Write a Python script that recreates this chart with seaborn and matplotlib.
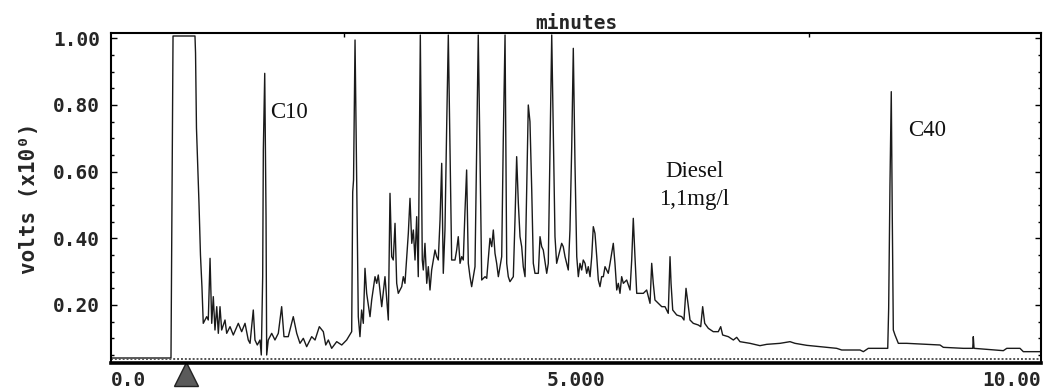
import matplotlib
matplotlib.use("Agg")
import matplotlib.pyplot as plt
import matplotlib.transforms as mtransforms
from matplotlib.ticker import MultipleLocator, FixedLocator
import seaborn as sns
import pandas as pd

# ---- data (time in minutes, signal in volts) ----
time_min = [
    0.000, 0.645, 0.656, 0.667, 0.903, 0.909, 0.919, 0.946, 0.962, 0.978,
    0.992, 1.029, 1.046, 1.065, 1.083, 1.100, 1.118, 1.137, 1.154, 1.172,
    1.190, 1.226, 1.244, 1.280, 1.315, 1.369, 1.405, 1.441, 1.476, 1.495,
    1.530, 1.548, 1.573, 1.602, 1.616, 1.631, 1.638, 1.653, 1.667, 1.674,
    1.691, 1.728, 1.763, 1.799, 1.835, 1.860, 1.906, 1.960, 1.997, 2.032,
    2.068, 2.104, 2.158, 2.194, 2.240, 2.283, 2.309, 2.337, 2.373, 2.427,
    2.481, 2.534, 2.588, 2.599, 2.608, 2.624, 2.642, 2.659, 2.677, 2.695,
    2.713, 2.731, 2.749, 2.785, 2.803, 2.839, 2.857, 2.874, 2.911, 2.946,
    2.982, 3.000, 3.018, 3.035, 3.054, 3.072, 3.089, 3.126, 3.143, 3.161,
    3.180, 3.197, 3.215, 3.234, 3.251, 3.269, 3.287, 3.304, 3.315, 3.326,
    3.337, 3.347, 3.358, 3.376, 3.395, 3.412, 3.430, 3.448, 3.484, 3.502,
    3.519, 3.538, 3.556, 3.573, 3.591, 3.610, 3.627, 3.645, 3.663, 3.699,
    3.717, 3.734, 3.753, 3.771, 3.788, 3.806, 3.824, 3.842, 3.860, 3.878,
    3.896, 3.914, 3.932, 3.949, 3.968, 3.986, 4.022, 4.040, 4.075, 4.094,
    4.111, 4.129, 4.147, 4.165, 4.183, 4.201, 4.218, 4.237, 4.255, 4.272,
    4.290, 4.326, 4.344, 4.362, 4.380, 4.398, 4.416, 4.433, 4.452, 4.470,
    4.487, 4.505, 4.524, 4.541, 4.559, 4.595, 4.613, 4.631, 4.648, 4.685,
    4.702, 4.720, 4.739, 4.756, 4.774, 4.792, 4.810, 4.846, 4.863, 4.882,
    4.900, 4.917, 4.935, 4.954, 4.971, 4.989, 5.008, 5.025, 5.043, 5.061,
    5.078, 5.097, 5.115, 5.132, 5.151, 5.169, 5.186, 5.204, 5.223, 5.240,
    5.258, 5.276, 5.294, 5.312, 5.330, 5.347, 5.366, 5.401, 5.419, 5.438,
    5.455, 5.473, 5.491, 5.509, 5.545, 5.581, 5.599, 5.616, 5.634, 5.653,
    5.688, 5.724, 5.760, 5.796, 5.814, 5.831, 5.849, 5.885, 5.922, 5.957,
    5.992, 6.011, 6.022, 6.040, 6.083, 6.137, 6.161, 6.183, 6.204, 6.226,
    6.261, 6.315, 6.341, 6.362, 6.384, 6.423, 6.476, 6.530, 6.556, 6.577,
    6.638, 6.692, 6.728, 6.763, 6.871, 6.978, 7.051, 7.194, 7.301, 7.355,
    7.481, 7.624, 7.803, 7.857, 8.054, 8.090, 8.143, 8.352, 8.362, 8.376,
    8.390, 8.401, 8.412, 8.430, 8.466, 8.556, 8.914, 8.950, 9.165, 9.266,
    9.272, 9.280, 9.595, 9.632, 9.774, 9.810, 10.000,
]
volts = [
    0.041, 0.041, 0.515, 1.007, 1.007, 0.956, 0.731, 0.506, 0.350, 0.254,
    0.145, 0.165, 0.155, 0.340, 0.145, 0.225, 0.125, 0.195, 0.115, 0.195,
    0.125, 0.155, 0.115, 0.135, 0.110, 0.145, 0.120, 0.145, 0.095, 0.085,
    0.185, 0.095, 0.080, 0.095, 0.050, 0.285, 0.665, 0.895, 0.465, 0.050,
    0.095, 0.115, 0.095, 0.115, 0.195, 0.105, 0.105, 0.165, 0.115, 0.085,
    0.100, 0.075, 0.105, 0.095, 0.135, 0.120, 0.080, 0.095, 0.070, 0.090,
    0.080, 0.095, 0.120, 0.539, 0.575, 0.995, 0.569, 0.165, 0.105, 0.185,
    0.145, 0.310, 0.235, 0.165, 0.215, 0.285, 0.265, 0.290, 0.195, 0.285,
    0.155, 0.535, 0.345, 0.335, 0.445, 0.265, 0.235, 0.255, 0.285, 0.265,
    0.345, 0.415, 0.520, 0.385, 0.425, 0.335, 0.465, 0.285, 0.655, 1.010,
    0.655, 0.335, 0.305, 0.385, 0.265, 0.315, 0.245, 0.305, 0.365, 0.345,
    0.335, 0.455, 0.625, 0.295, 0.425, 0.745, 1.010, 0.675, 0.335, 0.335,
    0.365, 0.405, 0.325, 0.345, 0.335, 0.480, 0.605, 0.325, 0.285, 0.255,
    0.285, 0.315, 0.665, 1.010, 0.645, 0.275, 0.285, 0.280, 0.400, 0.375,
    0.425, 0.355, 0.325, 0.285, 0.315, 0.345, 0.695, 1.010, 0.325, 0.285,
    0.270, 0.285, 0.455, 0.645, 0.505, 0.405, 0.375, 0.315, 0.285, 0.545,
    0.800, 0.750, 0.545, 0.325, 0.295, 0.295, 0.405, 0.375, 0.365, 0.295,
    0.325, 0.665, 1.010, 0.715, 0.405, 0.325, 0.345, 0.385, 0.375, 0.345,
    0.325, 0.305, 0.425, 0.675, 0.970, 0.625, 0.345, 0.285, 0.325, 0.305,
    0.335, 0.325, 0.295, 0.315, 0.285, 0.345, 0.435, 0.415, 0.345, 0.275,
    0.255, 0.285, 0.285, 0.315, 0.305, 0.295, 0.325, 0.385, 0.325, 0.245,
    0.265, 0.235, 0.285, 0.265, 0.275, 0.245, 0.335, 0.460, 0.345, 0.235,
    0.235, 0.235, 0.245, 0.205, 0.325, 0.265, 0.215, 0.205, 0.195, 0.195,
    0.175, 0.345, 0.265, 0.185, 0.170, 0.165, 0.155, 0.250, 0.205, 0.155,
    0.145, 0.140, 0.135, 0.195, 0.145, 0.130, 0.120, 0.120, 0.135, 0.110,
    0.105, 0.095, 0.103, 0.090, 0.085, 0.078, 0.082, 0.085, 0.090, 0.085,
    0.079, 0.075, 0.070, 0.065, 0.065, 0.060, 0.070, 0.070, 0.190, 0.560,
    0.840, 0.460, 0.125, 0.110, 0.085, 0.085, 0.080, 0.073, 0.070, 0.070,
    0.105, 0.070, 0.063, 0.070, 0.070, 0.060, 0.060,
]
baseline_volts = 0.039
injection_time = 0.806

ytick_values = [0.20, 0.40, 0.60, 0.80, 1.00]
ytick_labels = ["0.20", "0.40", "0.60", "0.80", "1.00"]
xtick_values = [0.0, 5.0, 10.0]
xtick_labels = ["0.0", "5.000", "10.00"]

annotations = [
    ("C10", 1.71, 0.779, "left"),
    ("C40", 8.57, 0.725, "left"),
    ("Diesel", 6.27, 0.599, "center"),
    ("1,1mg/l", 6.27, 0.515, "center"),
]

df = pd.DataFrame({"time": time_min, "volts": volts})

sns.set_theme(style="white")
mono = "DejaVu Sans Mono"
serif = "Liberation Serif"

fig = plt.figure(figsize=(10.47, 3.92), dpi=100)
ax = fig.add_axes([111 / 1047, 29 / 392, 930 / 1047, 330 / 392])

sns.lineplot(data=df, x="time", y="volts", ax=ax, estimator=None, sort=False,
             color="#1a1a1a", linewidth=1.0)

ax.axhline(baseline_volts, color="#555555", linestyle=(0, (1, 1)), linewidth=1.4)

ax.set_xlim(0, 10)
ax.set_ylim(0.026, 1.016)

ax.yaxis.set_major_locator(FixedLocator(ytick_values))
ax.set_yticklabels(ytick_labels, fontfamily=mono, fontweight="bold", fontsize=14)
ax.yaxis.set_minor_locator(MultipleLocator(0.05))
ax.tick_params(axis="y", which="major", direction="in", length=4, width=1,
               pad=8, left=True, right=True, color="black")
ax.tick_params(axis="y", which="minor", direction="in", length=2.5, width=1,
               left=True, right=True, color="black")

ax.set_xticks(xtick_values)
labels = ax.set_xticklabels(xtick_labels, fontfamily=mono, fontweight="bold", fontsize=14)
labels[0].set_horizontalalignment("left")
labels[1].set_horizontalalignment("center")
labels[2].set_horizontalalignment("right")
ax.tick_params(axis="x", which="major", direction="in", length=0, pad=6,
               bottom=True, top=False)
ax.xaxis.set_minor_locator(FixedLocator([2.5, 5.0, 7.5]))
ax.tick_params(axis="x", which="minor", direction="in", length=3, width=1,
               top=True, bottom=False, color="black")

ax.set_xlabel("")
ax.set_ylabel("volts (x10⁰)", fontfamily=mono, fontweight="bold", fontsize=15)
ax.yaxis.set_label_coords(-0.077, 0.5)
ax.set_title("minutes", fontfamily=mono, fontweight="bold", fontsize=14, pad=3)

for side in ["left", "right", "top"]:
    ax.spines[side].set_color("black")
    ax.spines[side].set_linewidth(1.5)
ax.spines["bottom"].set_color("black")
ax.spines["bottom"].set_linewidth(2.6)

for txt, tx, ty, ha in annotations:
    ax.text(tx, ty, txt, fontfamily=serif, fontsize=16.5, ha=ha, va="center",
            color="#111111")

trans = mtransforms.blended_transform_factory(ax.transData, ax.transAxes)
ax.plot([injection_time], [-0.032], marker="^", markersize=17, color="#5a5a5a",
        markeredgecolor="#222222", markeredgewidth=1, transform=trans,
        clip_on=False, linestyle="none")

fig.savefig("out.png", dpi=100)
